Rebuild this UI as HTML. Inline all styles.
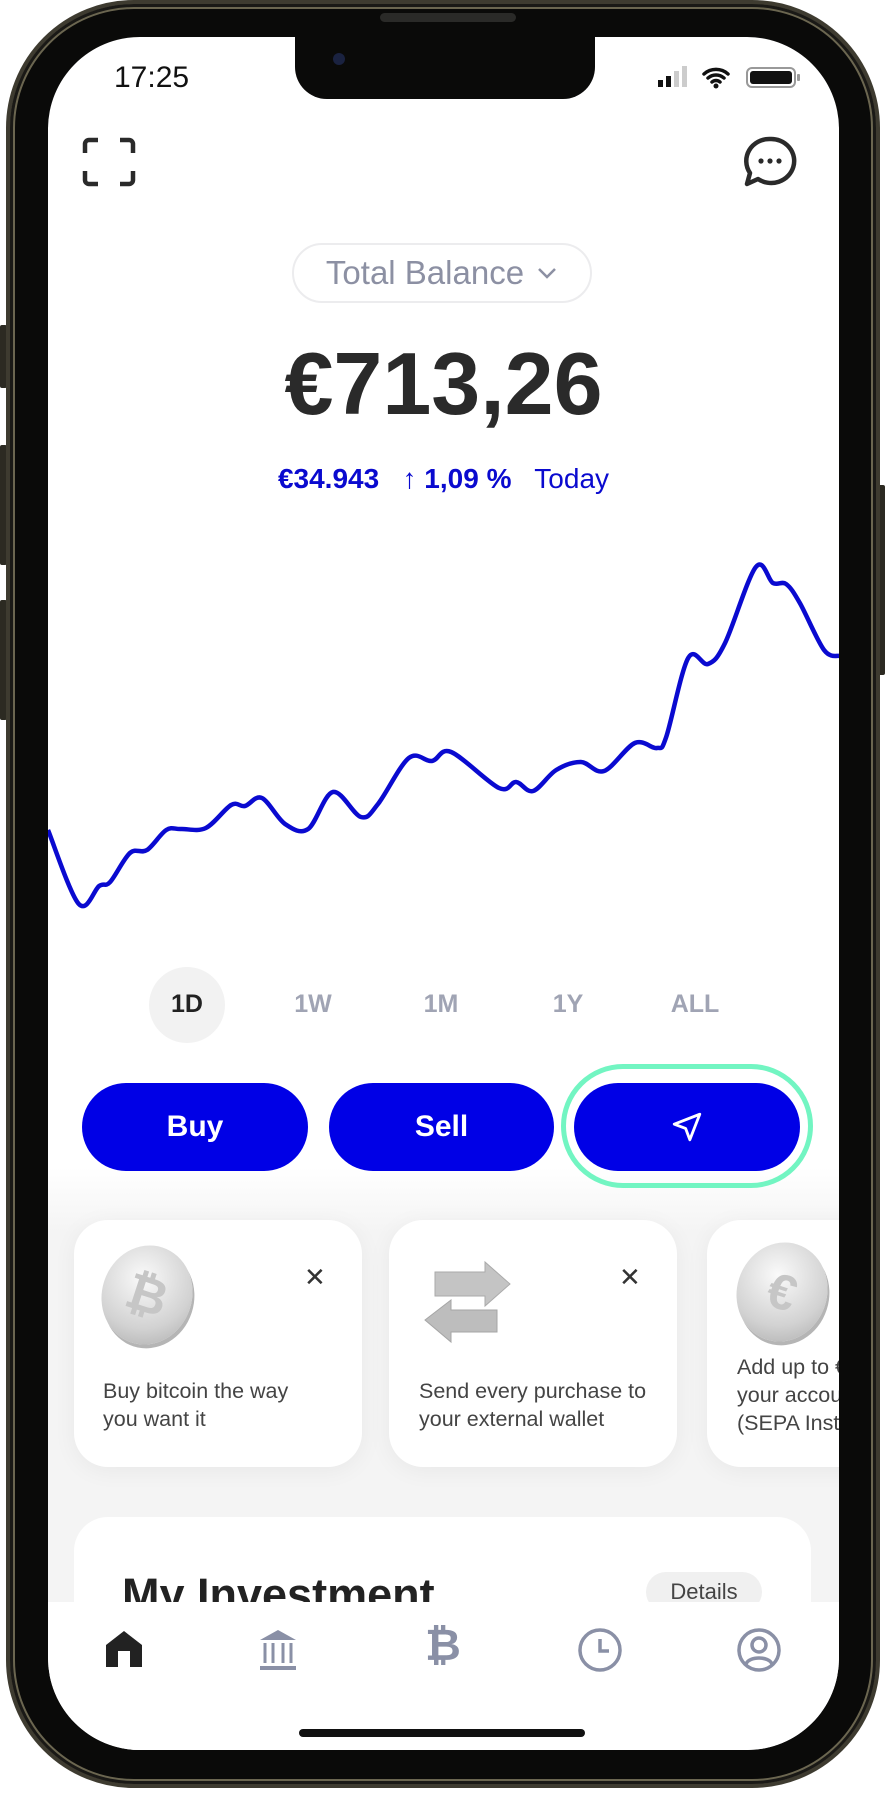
<!DOCTYPE html>
<html><head><meta charset="utf-8">
<style>
*{margin:0;padding:0;box-sizing:border-box}
body{width:885px;height:1793px;background:#fff;overflow:hidden;position:relative;font-family:"Liberation Sans",sans-serif}
.abs{position:absolute}
#phone{left:6px;top:0;width:874px;height:1788px;border-radius:128px;background:#0a0a09;border:4px solid #3e3b30;box-shadow:inset 0 0 0 3px #1a1916, inset 0 0 0 5px #6b6650}
#screen{left:48px;top:37px;width:791px;height:1713px;border-radius:92px;background:#fff;overflow:hidden}
.side{background:#2c2a22;border-radius:2px;width:7px}
.tab{font-weight:bold;font-size:25px;color:#a0a4b4;transform:translateX(-50%);top:953px}
.btn{height:88px;top:1046px;border-radius:44px;background:#0000e6;color:#fff;font-weight:bold;font-size:30px;display:flex;align-items:center;justify-content:center}
.card{top:1183px;height:247px;width:288px;border-radius:34px;background:#fff;box-shadow:0 4px 24px rgba(0,0,0,0.05)}
.ctext{font-size:21.5px;color:#444;line-height:28px}
.x{font-size:26px;color:#333}
.coin{width:90px;height:100px;border-radius:50%;background:radial-gradient(circle at 40% 35%,#fafafa,#d2d2d2 60%,#a8a8a8);transform:rotate(18deg);display:flex;align-items:center;justify-content:center;font-size:50px;color:#c6c6c6;font-weight:bold;box-shadow:3px 3px 0 #b5b5b5}
</style></head><body>
<div class="abs side" style="left:0;top:325px;height:63px"></div>
<div class="abs side" style="left:0;top:445px;height:120px"></div>
<div class="abs side" style="left:0;top:600px;height:120px"></div>
<div class="abs side" style="left:878px;top:485px;height:190px"></div>
<div id="phone" class="abs"></div>
<div class="abs" style="left:380px;top:13px;width:136px;height:9px;border-radius:5px;background:#2a2a28"></div>
<div id="screen" class="abs">
  <div class="abs" style="left:247px;top:-2px;width:300px;height:64px;background:#0a0a09;border-radius:0 0 32px 32px"></div>
  <div class="abs" style="left:285px;top:16px;width:12px;height:12px;border-radius:50%;background:#1a2240"></div>
  <div class="abs" style="left:66px;top:24px;font-size:30px;color:#111">17:25</div>
  <svg class="abs" style="left:610px;top:28px" width="150" height="26">
    <rect x="0" y="15" width="5" height="7" fill="#111"/><rect x="8" y="11" width="5" height="11" fill="#111"/><rect x="16" y="6" width="5" height="16" fill="#ccc"/><rect x="24" y="1" width="5" height="21" fill="#ccc"/>
    <path d="M46 9a18 18 0 0 1 24 0M50 13a12 12 0 0 1 16 0M54 17a6 6 0 0 1 8 0" stroke="#111" stroke-width="3.5" fill="none" stroke-linecap="round"/><circle cx="58" cy="21" r="2.5" fill="#111"/>
    <rect x="89" y="3" width="48" height="19" rx="5" fill="none" stroke="#999" stroke-width="2"/><rect x="92" y="6" width="42" height="13" rx="3" fill="#111"/><rect x="139" y="9" width="3" height="7" rx="1" fill="#999"/>
  </svg>
  <svg class="abs" style="left:34px;top:100px" width="54" height="50"><path d="M3 16V7a4 4 0 0 1 4-4h9M38 3h9a4 4 0 0 1 4 4v9M51 34v9a4 4 0 0 1-4 4h-9M16 47H7a4 4 0 0 1-4-4v-9" stroke="#2a2a2a" stroke-width="4.5" fill="none"/></svg>
  <svg class="abs" style="left:694px;top:98px" width="56" height="54"><path d="M28 4a23 22 0 1 1-12 40l-11 5 3-11A23 22 0 0 1 28 4z" stroke="#2a2a2a" stroke-width="4.5" fill="none" stroke-linejoin="round"/><circle cx="19" cy="26" r="2.6" fill="#2a2a2a"/><circle cx="28" cy="26" r="2.6" fill="#2a2a2a"/><circle cx="37" cy="26" r="2.6" fill="#2a2a2a"/></svg>
  <div class="abs" style="left:244px;top:206px;width:300px;height:60px;border:2px solid #ececee;border-radius:30px;display:flex;align-items:center;justify-content:center;font-size:33px;color:#8c90a3">Total Balance <svg width="22" height="14" style="margin-left:12px"><path d="M3 3l8 8 8-8" stroke="#8c90a3" stroke-width="2.5" fill="none"/></svg></div>
  <div class="abs" style="left:0;width:791px;top:296px;text-align:center;font-size:88px;font-weight:bold;color:#2a2a2a">€713,26</div>
  <div class="abs" style="left:0;width:791px;top:426px;text-align:center;font-size:28px;color:#0a0acf;white-space:pre"><b>€34.943</b>   <b>↑ 1,09 %</b>   Today</div>
  <svg class="abs" id="chart" style="left:-48px;top:-37px" width="885" height="1000"></svg>
  <div class="abs" style="left:101px;top:930px;width:76px;height:76px;border-radius:50%;background:#f2f2f2"></div>
  <div class="abs tab" style="left:139px;color:#222">1D</div>
  <div class="abs tab" style="left:265px">1W</div>
  <div class="abs tab" style="left:393px">1M</div>
  <div class="abs tab" style="left:520px">1Y</div>
  <div class="abs tab" style="left:647px">ALL</div>
  <div class="abs" style="left:0;top:1130px;width:791px;height:440px;background:linear-gradient(#fff,#f4f4f4 15%,#f4f4f4)"></div>
  <div class="abs btn" style="left:34px;width:226px">Buy</div>
  <div class="abs btn" style="left:281px;width:225px">Sell</div>
  <div class="abs" style="left:513px;top:1027px;width:252px;height:124px;border:5px solid #72f5c2;border-radius:62px"></div>
  <div class="abs btn" style="left:526px;width:226px"><svg width="34" height="34" viewBox="0 0 24 24"><path d="M21 3L3 10l8 3 3 8z" fill="none" stroke="#fff" stroke-width="2" stroke-linejoin="round"/></svg></div>
  <div class="abs card" style="left:26px">
    <div class="abs coin" style="left:28px;top:25px">₿</div>
    <div class="abs x" style="left:230px;top:42px">✕</div>
    <div class="abs ctext" style="left:29px;top:157px">Buy bitcoin the way<br>you want it</div>
  </div>
  <div class="abs card" style="left:341px">
    <svg class="abs" style="left:28px;top:40px" width="100" height="85"><path d="M18 12h50V2l25 22-25 22V36H18z" fill="#c4c4c4" stroke="#aaa"/><path d="M80 50H34V40L8 60l26 22V72h46z" fill="#bdbdbd" stroke="#a5a5a5"/></svg>
    <div class="abs x" style="left:230px;top:42px">✕</div>
    <div class="abs ctext" style="left:30px;top:157px">Send every purchase to<br>your external wallet</div>
  </div>
  <div class="abs card" style="left:659px;overflow:hidden">
    <div class="abs coin" style="left:30px;top:22px">€</div>
    <div class="abs ctext" style="left:30px;top:133px;white-space:nowrap">Add up to €<br>your account<br>(SEPA Instant)</div>
  </div>
  <div class="abs" style="left:26px;top:1480px;width:737px;height:200px;border-radius:34px;background:#fff"></div>
  <div class="abs" style="left:74px;top:1532px;font-size:45px;font-weight:bold;color:#222">My Investment</div>
  <div class="abs" style="left:598px;top:1535px;width:116px;height:40px;border-radius:20px;background:#f0f0f0;font-size:22px;color:#444;text-align:center;line-height:40px">Details</div>
  <div class="abs" style="left:0;top:1565px;width:791px;height:160px;background:#fff"></div>
  <svg class="abs" style="left:56px;top:1592px" width="40" height="40"><path d="M2 16L20 2l18 14v22H26V22H14v16H2z" fill="#222"/></svg>
  <svg class="abs" style="left:208px;top:1591px" width="44" height="44"><path d="M22 2L4 12h36z" fill="#8a90a6"/><g stroke="#8a90a6" stroke-width="3"><path d="M9 15v20M17 15v20M27 15v20M35 15v20"/><path d="M4 40h36" stroke-width="4"/></g></svg>
  <div class="abs" style="left:377px;top:1584px;font-size:44px;color:#8a90a6;font-weight:bold">₿</div>
  <svg class="abs" style="left:529px;top:1590px" width="46" height="46"><circle cx="23" cy="23" r="20" stroke="#8a90a6" stroke-width="3.5" fill="none"/><path d="M23 12v12h9" stroke="#8a90a6" stroke-width="3.5" fill="none"/></svg>
  <svg class="abs" style="left:688px;top:1590px" width="46" height="46"><circle cx="23" cy="23" r="20" stroke="#8a90a6" stroke-width="3.5" fill="none"/><circle cx="23" cy="18" r="7" stroke="#8a90a6" stroke-width="3.5" fill="none"/><path d="M10 37c3-8 23-8 26 0" stroke="#8a90a6" stroke-width="3.5" fill="none"/></svg>
  <div class="abs" style="left:251px;top:1692px;width:286px;height:8px;border-radius:4px;background:#111"></div>
</div>
<script>
const times=[0,56,93,113,149,180,215,242,287,333,358,389,431,473,518,569,600,656,698,733,820,851,882,924,969,1011,1067,1107,1124,1164,1200,1231,1287,1318,1342,1367,1411,1440];
const values=[74,0,18,22,51,54,74,75,76,99,98,106,80,75,112,87,100,146,143,152,116,122,113,134,142,133,161,156,167,246,240,261,337,321,320,301,254,248];
const xDomain=[0,1440], yDomain=[0,337];
function xScale(t){return 48+(t-xDomain[0])/(xDomain[1]-xDomain[0])*792;}
function yScale(v){return 904-(v-yDomain[0])/(yDomain[1]-yDomain[0])*337;}
const pts=times.map((t,i)=>[xScale(t),yScale(values[i])]);
let d='M'+pts[0][0]+' '+pts[0][1];
for(let i=0;i<pts.length-1;i++){
  const p0=pts[Math.max(0,i-1)],p1=pts[i],p2=pts[i+1],p3=pts[Math.min(pts.length-1,i+2)];
  const c1=[p1[0]+(p2[0]-p0[0])/6,p1[1]+(p2[1]-p0[1])/6];
  const c2=[p2[0]-(p3[0]-p1[0])/6,p2[1]-(p3[1]-p1[1])/6];
  d+=` C${c1[0]} ${c1[1]} ${c2[0]} ${c2[1]} ${p2[0]} ${p2[1]}`;
}
const path=document.createElementNS('http://www.w3.org/2000/svg','path');
path.setAttribute('d',d);
path.setAttribute('fill','none');
path.setAttribute('stroke','#0a0ad0');
path.setAttribute('stroke-width','4.5');
path.setAttribute('stroke-linejoin','round');


document.getElementById('chart').appendChild(path);
</script>
</body></html>
